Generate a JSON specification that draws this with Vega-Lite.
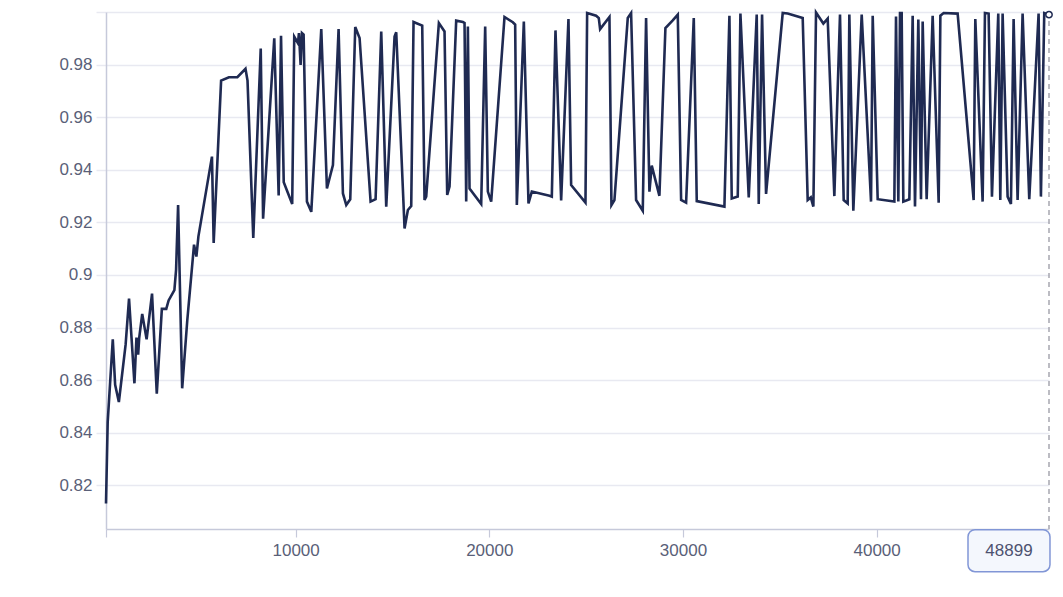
{
  "$schema": "https://vega.github.io/schema/vega-lite/v6.json",
  "autosize": {"type": "none"},
  "width": 943,
  "height": 517,
  "padding": {"left": 106, "top": 12, "right": 14, "bottom": 68},
  "background": "white",
  "config": {
    "view": {"stroke": null},
    "font": "Liberation Sans",
    "axis": {"labelFont": "Liberation Sans", "labelFontSize": 17, "labelColor": "#5a5f78", "title": null}
  },
  "datasets": {
    "acc": [
      {"step": 210, "acc": 0.8131}, {"step": 297, "acc": 0.844}, {"step": 560, "acc": 0.8755}, {"step": 682, "acc": 0.8582},
      {"step": 874, "acc": 0.8517}, {"step": 1224, "acc": 0.8736}, {"step": 1399, "acc": 0.891}, {"step": 1678, "acc": 0.8588},
      {"step": 1783, "acc": 0.8762}, {"step": 1870, "acc": 0.8697}, {"step": 1923, "acc": 0.876}, {"step": 2080, "acc": 0.8852},
      {"step": 2307, "acc": 0.8755}, {"step": 2587, "acc": 0.8929}, {"step": 2832, "acc": 0.8549}, {"step": 3094, "acc": 0.8871},
      {"step": 3321, "acc": 0.8871}, {"step": 3443, "acc": 0.8903}, {"step": 3741, "acc": 0.8942}, {"step": 3828, "acc": 0.9019},
      {"step": 3933, "acc": 0.9266}, {"step": 4143, "acc": 0.8569}, {"step": 4405, "acc": 0.8826}, {"step": 4755, "acc": 0.9115},
      {"step": 4877, "acc": 0.907}, {"step": 4982, "acc": 0.9147}, {"step": 5681, "acc": 0.945}, {"step": 5769, "acc": 0.9122},
      {"step": 6153, "acc": 0.9739}, {"step": 6555, "acc": 0.9752}, {"step": 6992, "acc": 0.9752}, {"step": 7412, "acc": 0.9784},
      {"step": 7517, "acc": 0.9739}, {"step": 7814, "acc": 0.9141}, {"step": 8199, "acc": 0.9861}, {"step": 8321, "acc": 0.9214},
      {"step": 8898, "acc": 0.99}, {"step": 9125, "acc": 0.9302}, {"step": 9247, "acc": 0.991}, {"step": 9387, "acc": 0.9353},
      {"step": 9824, "acc": 0.927}, {"step": 9929, "acc": 0.9906}, {"step": 10120, "acc": 0.9882}, {"step": 10172, "acc": 0.992},
      {"step": 10258, "acc": 0.9799}, {"step": 10327, "acc": 0.992}, {"step": 10413, "acc": 0.9914}, {"step": 10585, "acc": 0.9279},
      {"step": 10809, "acc": 0.924}, {"step": 11325, "acc": 0.9935}, {"step": 11617, "acc": 0.9329}, {"step": 11927, "acc": 0.9418},
      {"step": 12219, "acc": 0.9935}, {"step": 12443, "acc": 0.931}, {"step": 12615, "acc": 0.9266}, {"step": 12821, "acc": 0.9288},
      {"step": 13079, "acc": 0.9943}, {"step": 13303, "acc": 0.9901}, {"step": 13871, "acc": 0.9279}, {"step": 14129, "acc": 0.9288},
      {"step": 14421, "acc": 0.9926}, {"step": 14679, "acc": 0.926}, {"step": 15109, "acc": 0.9907}, {"step": 15195, "acc": 0.9923},
      {"step": 15625, "acc": 0.9177}, {"step": 15797, "acc": 0.9247}, {"step": 15969, "acc": 0.9262}, {"step": 16089, "acc": 0.9962},
      {"step": 16537, "acc": 0.9948}, {"step": 16657, "acc": 0.9285}, {"step": 16743, "acc": 0.9298}, {"step": 17397, "acc": 0.9958},
      {"step": 17689, "acc": 0.9926}, {"step": 17827, "acc": 0.9304}, {"step": 17947, "acc": 0.9336}, {"step": 18291, "acc": 0.9967},
      {"step": 18636, "acc": 0.9962}, {"step": 18722, "acc": 0.9958}, {"step": 18808, "acc": 0.9279}, {"step": 18894, "acc": 0.9945},
      {"step": 18980, "acc": 0.9329}, {"step": 19582, "acc": 0.927}, {"step": 19788, "acc": 0.9945}, {"step": 19926, "acc": 0.9317},
      {"step": 20098, "acc": 0.9279}, {"step": 20786, "acc": 0.9981}, {"step": 21216, "acc": 0.9961}, {"step": 21336, "acc": 0.9952},
      {"step": 21422, "acc": 0.9266}, {"step": 21784, "acc": 0.9964}, {"step": 22024, "acc": 0.9272}, {"step": 22196, "acc": 0.9317},
      {"step": 23108, "acc": 0.9301}, {"step": 23228, "acc": 0.9298}, {"step": 23418, "acc": 0.993}, {"step": 23710, "acc": 0.9283},
      {"step": 24088, "acc": 0.9973}, {"step": 24226, "acc": 0.9342}, {"step": 24966, "acc": 0.9275}, {"step": 25052, "acc": 0.9996},
      {"step": 25516, "acc": 0.9986}, {"step": 25654, "acc": 0.9977}, {"step": 25722, "acc": 0.9935}, {"step": 26204, "acc": 0.9981},
      {"step": 26307, "acc": 0.9266}, {"step": 26462, "acc": 0.9285}, {"step": 27150, "acc": 0.9977}, {"step": 27322, "acc": 0.9996},
      {"step": 27580, "acc": 0.9285}, {"step": 27924, "acc": 0.9244}, {"step": 28096, "acc": 0.9977}, {"step": 28268, "acc": 0.9317},
      {"step": 28388, "acc": 0.9416}, {"step": 28784, "acc": 0.9301}, {"step": 29094, "acc": 0.9939}, {"step": 29472, "acc": 0.9968},
      {"step": 29732, "acc": 0.999}, {"step": 29904, "acc": 0.9285}, {"step": 30162, "acc": 0.9275}, {"step": 30558, "acc": 0.9977},
      {"step": 30712, "acc": 0.9281}, {"step": 32140, "acc": 0.926}, {"step": 32398, "acc": 0.9986}, {"step": 32518, "acc": 0.9291},
      {"step": 32828, "acc": 0.9298}, {"step": 32966, "acc": 0.9994}, {"step": 33396, "acc": 0.9295}, {"step": 33808, "acc": 0.999},
      {"step": 33912, "acc": 0.927}, {"step": 34084, "acc": 0.999}, {"step": 34290, "acc": 0.9308}, {"step": 35150, "acc": 0.9996},
      {"step": 35408, "acc": 0.9994}, {"step": 36182, "acc": 0.9977}, {"step": 36440, "acc": 0.9285}, {"step": 36600, "acc": 0.9295},
      {"step": 36733, "acc": 0.926}, {"step": 36870, "acc": 0.9998}, {"step": 37248, "acc": 0.9956}, {"step": 37472, "acc": 0.9975},
      {"step": 37816, "acc": 0.93}, {"step": 38108, "acc": 0.999}, {"step": 38298, "acc": 0.9285}, {"step": 38504, "acc": 0.9272},
      {"step": 38590, "acc": 0.999}, {"step": 38796, "acc": 0.9244}, {"step": 39228, "acc": 0.999}, {"step": 39710, "acc": 0.9279},
      {"step": 39796, "acc": 0.9986}, {"step": 40054, "acc": 0.9288}, {"step": 40914, "acc": 0.9279}, {"step": 41000, "acc": 0.9983},
      {"step": 41120, "acc": 0.9279}, {"step": 41206, "acc": 0.9996}, {"step": 41292, "acc": 0.9996}, {"step": 41378, "acc": 0.9279},
      {"step": 41688, "acc": 0.9288}, {"step": 41860, "acc": 0.9986}, {"step": 41980, "acc": 0.926}, {"step": 42152, "acc": 0.9971},
      {"step": 42290, "acc": 0.9288}, {"step": 42376, "acc": 0.9964}, {"step": 42582, "acc": 0.9288}, {"step": 42892, "acc": 0.9986},
      {"step": 43202, "acc": 0.9275}, {"step": 43290, "acc": 0.9986}, {"step": 43460, "acc": 0.9996}, {"step": 44182, "acc": 0.9994},
      {"step": 45008, "acc": 0.9285}, {"step": 45094, "acc": 0.9973}, {"step": 45472, "acc": 0.9279}, {"step": 45592, "acc": 0.9996},
      {"step": 45782, "acc": 0.9994}, {"step": 45954, "acc": 0.9298}, {"step": 46280, "acc": 0.9994}, {"step": 46384, "acc": 0.9285},
      {"step": 46504, "acc": 0.9994}, {"step": 46762, "acc": 0.9298}, {"step": 46934, "acc": 0.927}, {"step": 47072, "acc": 0.9973},
      {"step": 47278, "acc": 0.9285}, {"step": 47536, "acc": 0.9994}, {"step": 47880, "acc": 0.9288}, {"step": 48362, "acc": 0.9994},
      {"step": 48482, "acc": 0.9298}, {"step": 48654, "acc": 0.9996}, {"step": 48899, "acc": 0.999}
    ],
    "tip": [
      {"step": 48899, "acc": 0.999, "x1": 44717, "x2": 48950, "y1": 0.80313, "y2": 0.78716, "xm": 46833, "ym": 0.79515, "label": "48899"}
    ]
  },
  "layer": [
    {
      "data": {"name": "acc"},
      "mark": {"type": "line", "color": "#1f2a52", "strokeWidth": 2.6, "strokeJoin": "miter", "interpolate": "linear"},
      "encoding": {
        "x": {
          "field": "step", "type": "quantitative",
          "scale": {"domain": [210, 48899], "nice": false, "zero": false},
          "axis": {
            "values": [210, 10000, 20000, 30000, 40000],
            "labelExpr": "datum.value < 1000 ? '' : format(datum.value, 'd')",
            "grid": false, "domainColor": "#c6c9da", "domainWidth": 1.5,
            "tickColor": "#c6c9da", "tickSize": 8, "tickWidth": 1.2, "labelPadding": 5
          }
        },
        "y": {
          "field": "acc", "type": "quantitative",
          "scale": {"domain": [0.8034, 1.0], "nice": false, "zero": false},
          "axis": {
            "values": [0.82, 0.84, 0.86, 0.88, 0.9, 0.92, 0.94, 0.96, 0.98, 1.0],
            "labelExpr": "datum.value >= 0.999 ? '' : format(datum.value, '~g')",
            "grid": true, "gridColor": "#e8e9f1", "gridWidth": 1.5,
            "domainColor": "#c6c9da", "domainWidth": 1.5,
            "tickColor": "#e8e9f1", "tickSize": 10, "tickWidth": 1.5, "labelPadding": 4
          }
        }
      }
    },
    {
      "data": {"name": "tip"},
      "mark": {"type": "rule", "color": "#a6a7b0", "strokeDash": [5, 4], "strokeWidth": 1.5},
      "encoding": {"x": {"field": "step", "type": "quantitative"}}
    },
    {
      "data": {"name": "tip"},
      "mark": {"type": "point", "filled": true, "fill": "white", "stroke": "#1f2a52", "strokeWidth": 1.5, "size": 40, "opacity": 1},
      "encoding": {
        "x": {"field": "step", "type": "quantitative"},
        "y": {"field": "acc", "type": "quantitative"}
      }
    },
    {
      "data": {"name": "tip"},
      "mark": {"type": "rect", "fill": "#f4f7fd", "stroke": "#8196d6", "strokeWidth": 1.5, "cornerRadius": 7},
      "encoding": {
        "x": {"field": "x1", "type": "quantitative"},
        "x2": {"field": "x2"},
        "y": {"field": "y1", "type": "quantitative"},
        "y2": {"field": "y2"}
      }
    },
    {
      "data": {"name": "tip"},
      "mark": {"type": "text", "font": "Liberation Sans", "fontSize": 17, "color": "#4d5270", "align": "center", "baseline": "middle"},
      "encoding": {
        "x": {"field": "xm", "type": "quantitative"},
        "y": {"field": "ym", "type": "quantitative"},
        "text": {"field": "label"}
      }
    }
  ]
}
